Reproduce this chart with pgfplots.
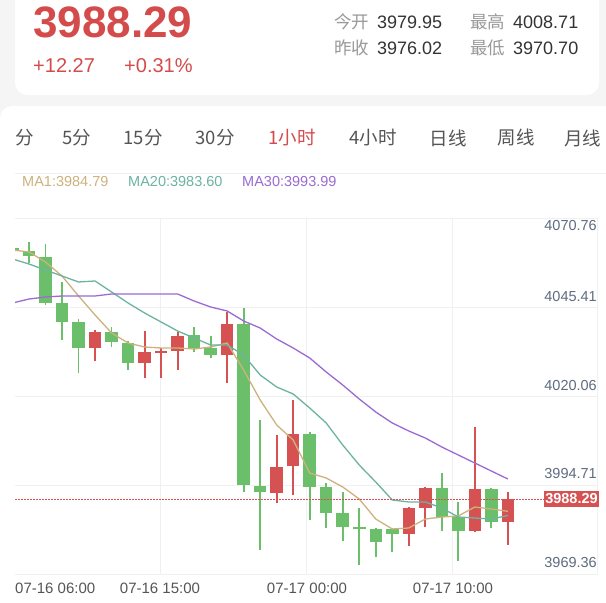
\documentclass[border=0pt]{standalone}
\usepackage{pgfplots}
\usepackage{pgfplotstable}
\pgfplotsset{compat=1.18}
\usepackage{fontspec}
\setmainfont{Liberation Sans}
\newfontfamily\cjk{Noto Sans CJK SC}
\newcommand\fs[1]{\fontsize{#1bp}{#1bp}\selectfont}
\definecolor{hred}{HTML}{D44B4B}
\definecolor{cred}{HTML}{D65252}
\definecolor{cgreen}{HTML}{6BBF6B}
\definecolor{maone}{HTML}{CDB27E}
\definecolor{matwenty}{HTML}{6DB3A2}
\definecolor{mathirty}{HTML}{9B6BD1}
\definecolor{gridc}{HTML}{F0F0F0}
\definecolor{ylab}{HTML}{5F6C80}
\definecolor{bgc}{HTML}{F5F5F5}
\definecolor{tabc}{HTML}{555555}
\definecolor{lgray}{HTML}{999999}
\definecolor{dark}{HTML}{333333}

\pgfplotstableread{
i o h l c
5 4031.21 4036.42 4027.60 4035.77
8 4027.11 4036.14 4022.67 4030.24
9 4029.96 4031.21 4022.84 4030.44
10 4030.44 4035.94 4025.03 4034.80
13 4029.30 4041.64 4021.24 4038.05
16 3989.91 4006.52 3987.07 3997.49
17 3997.77 4016.49 3989.43 4006.72
24 3978.32 3986.10 3974.99 3985.64
25 3985.81 3991.79 3980.40 3991.51
28 3979.18 4008.71 3978.81 3991.14
30 3981.65 3990.20 3975.19 3988.29
}\redc

\pgfplotstableread{
i o h l c
0 4059.78 4060.06 4058.64 4058.93
1 4059.07 4061.49 4055.51 4057.50
2 4057.30 4060.83 4043.54 4044.20
3 4044.03 4050.01 4033.58 4038.79
4 4038.70 4039.56 4024.09 4031.21
6 4035.77 4037.36 4031.67 4033.01
7 4032.64 4033.29 4025.03 4027.11
11 4035.00 4037.19 4030.24 4031.38
12 4031.21 4034.72 4028.36 4029.30
14 4038.05 4042.78 3990.37 3992.28
15 3992.08 4010.79 3973.76 3990.20
18 4006.72 4007.29 3982.31 3991.79
19 3991.79 3992.76 3979.94 3984.39
20 3984.39 3990.20 3976.41 3980.23
21 3980.23 3985.81 3969.49 3979.75
22 3979.66 3979.94 3971.68 3975.96
23 3979.66 3979.94 3973.11 3978.32
26 3991.51 3995.78 3979.18 3983.08
27 3983.08 3987.35 3970.70 3979.26
29 3991.14 3991.34 3979.94 3981.82
}\greenc

\pgfplotstableread{
i ma1 ma20 ma30
0 4059.21 4056.65 4044.11
1 4058.64 4055.22 4045.25
2 4055.79 4053.51 4045.82
3 4051.80 4051.80 4046.11
4 4046.11 4050.10 4046.11
5 4040.70 4050.38 4046.11
6 4035.57 4047.25 4046.68
7 4032.72 4044.11 4046.68
8 4031.58 4041.27 4046.68
9 4031.30 4038.70 4046.68
10 4031.30 4036.14 4046.68
11 4031.01 4034.15 4044.68
12 4031.58 4032.15 4042.98
13 4032.72 4032.15 4041.84
14 4025.03 4029.30 4038.99
15 4016.49 4023.61 4036.99
16 4009.37 4020.19 4033.86
17 4005.09 4018.20 4031.30
18 3995.70 4014.21 4028.45
19 3994.27 4009.94 4024.46
20 3991.71 4003.67 4020.76
21 3988.29 3997.97 4016.77
22 3982.59 3993.13 4013.07
23 3979.75 3988.01 4009.94
24 3980.03 3987.44 4007.66
25 3982.59 3987.44 4005.66
26 3983.16 3985.73 4003.10
27 3983.45 3983.16 4000.82
28 3986.01 3982.88 3998.54
29 3985.44 3982.59 3996.26
30 3984.79 3983.60 3993.99
}\matab

\begin{document}
\begin{tikzpicture}
\path[use as bounding box] (0bp,0bp) rectangle (606bp,-603bp);
\fill[bgc] (0bp,0bp) rectangle (606bp,-603bp);
\fill[white, rounded corners=12bp] (15bp,20bp) rectangle (599bp,-95bp);
\fill[white, rounded corners=12bp] (0bp,-106bp) rectangle (630bp,-640bp);

% header
\node[anchor=west, inner sep=0pt, text=hred] at (33bp,-22bp) {\fs{44}\bfseries 3988.29};
\node[anchor=west, inner sep=0pt, text=hred] at (33bp,-66bp) {\fs{20}+12.27};
\node[anchor=west, inner sep=0pt, text=hred] at (124bp,-66bp) {\fs{20}+0.31\%};
\node[anchor=west, inner sep=0pt, text=lgray] at (334bp,-22bp) {\cjk\fs{17.5}今开};
\node[anchor=west, inner sep=0pt, text=dark] at (377bp,-22bp) {\fs{18}3979.95};
\node[anchor=west, inner sep=0pt, text=lgray] at (470bp,-22bp) {\cjk\fs{17.5}最高};
\node[anchor=west, inner sep=0pt, text=dark] at (513bp,-22bp) {\fs{18}4008.71};
\node[anchor=west, inner sep=0pt, text=lgray] at (334bp,-48bp) {\cjk\fs{17.5}昨收};
\node[anchor=west, inner sep=0pt, text=dark] at (377bp,-48bp) {\fs{18}3976.02};
\node[anchor=west, inner sep=0pt, text=lgray] at (470bp,-48bp) {\cjk\fs{17.5}最低};
\node[anchor=west, inner sep=0pt, text=dark] at (513bp,-48bp) {\fs{18}3970.70};

% tabs
\node[anchor=west, inner sep=0pt, text=tabc] at (15bp,-138bp) {\cjk\fs{18.5}分};
\node[inner sep=0pt, text=tabc] at (77bp,-138bp) {\cjk\fs{18.5}5分};
\node[inner sep=0pt, text=tabc] at (143bp,-138bp) {\cjk\fs{18.5}15分};
\node[inner sep=0pt, text=tabc] at (215bp,-138bp) {\cjk\fs{18.5}30分};
\node[inner sep=0pt, text=hred] at (292bp,-138bp) {\cjk\fs{18.5}1小时};
\node[inner sep=0pt, text=tabc] at (373bp,-138bp) {\cjk\fs{18.5}4小时};
\node[inner sep=0pt, text=tabc] at (448bp,-138bp) {\cjk\fs{18.5}日线};
\node[inner sep=0pt, text=tabc] at (516bp,-138bp) {\cjk\fs{18.5}周线};
\node[anchor=west, inner sep=0pt, text=tabc] at (564bp,-138bp) {\cjk\fs{18.5}月线};
\draw[gridc, line width=0.8bp] (15bp,-173bp) -- (606bp,-173bp);

% legend
\node[anchor=west, inner sep=0pt, text=maone] at (22bp,-182bp) {\fs{14.5}MA1:3984.79};
\node[anchor=west, inner sep=0pt, text=matwenty] at (128bp,-182bp) {\fs{14.5}MA20:3983.60};
\node[anchor=west, inner sep=0pt, text=mathirty] at (242bp,-182bp) {\fs{14.5}MA30:3993.99};

\begin{axis}[at={(15bp,-574bp)}, anchor=south west, scale only axis,
  width=583bp, height=356bp,
  xmin=0.151, xmax=35.46, ymin=3966.93, ymax=4068.32,
  axis line style={draw=none},
  xtick={8.978,17.81,26.64,35.44}, ytick={3966.95,3992.28,4017.63,4042.98,4068.30},
  xticklabels={}, yticklabels={}, major tick length=0pt,
  grid=major, grid style={line width=0.8bp, gridc},
  clip=true,
  candle/.style={only marks, mark=text, text mark={}, mark size=0pt, mark options={opacity=0}, forget plot,
    error bars/.cd, y dir=both, y explicit, error mark=none, error bar style={#1}, /pgfplots/.cd}]
% wicks
\addplot[candle={line width=1.8bp, cred}]
  table[x=i, y expr={(\thisrow{h}+\thisrow{l})/2}, y error expr={(\thisrow{h}-\thisrow{l})/2}] {\redc};
\addplot[candle={line width=1.8bp, cgreen}]
  table[x=i, y expr={(\thisrow{h}+\thisrow{l})/2}, y error expr={(\thisrow{h}-\thisrow{l})/2}] {\greenc};
% bodies
\addplot[candle={line width=12.5bp, cred}]
  table[x=i, y expr={(\thisrow{o}+\thisrow{c})/2}, y error expr={max(abs(\thisrow{o}-\thisrow{c})/2,0.3)}] {\redc};
\addplot[candle={line width=12.5bp, cgreen}]
  table[x=i, y expr={(\thisrow{o}+\thisrow{c})/2}, y error expr={max(abs(\thisrow{o}-\thisrow{c})/2,0.3)}] {\greenc};
% moving averages
\addplot[maone, line width=1.3bp, mark=none] table[x=i, y=ma1] {\matab};
\addplot[matwenty, line width=1.3bp, mark=none] table[x=i, y=ma20] {\matab};
\addplot[mathirty, line width=1.3bp, mark=none] table[x=i, y=ma30] {\matab};
% current price
\addplot[cred, line width=1bp, dash pattern=on 1.5bp off 1.5bp] coordinates {(0.151,3988.29) (32.2,3988.29)};
\end{axis}

% y labels
\node[anchor=east, inner sep=0pt, text=ylab] at (597bp,-226bp) {\fs{14.5}4070.76};
\node[anchor=east, inner sep=0pt, text=ylab] at (597bp,-297bp) {\fs{14.5}4045.41};
\node[anchor=east, inner sep=0pt, text=ylab] at (597bp,-386bp) {\fs{14.5}4020.06};
\node[anchor=east, inner sep=0pt, text=ylab] at (597bp,-474bp) {\fs{14.5}3994.71};
\node[anchor=east, inner sep=0pt, text=ylab] at (597bp,-563bp) {\fs{14.5}3969.36};
\fill[cred] (544bp,-491bp) rectangle (599bp,-507bp);
\node[inner sep=0pt, text=white] at (571.5bp,-499bp) {\fs{14.5}\bfseries 3988.29};

% time labels
\node[anchor=west, inner sep=0pt, text=tabc] at (15bp,-588bp) {\fs{15}07-16 06:00};
\node[inner sep=0pt, text=tabc] at (160bp,-588bp) {\fs{15}07-16 15:00};
\node[inner sep=0pt, text=tabc] at (307bp,-588bp) {\fs{15}07-17 00:00};
\node[inner sep=0pt, text=tabc] at (453bp,-588bp) {\fs{15}07-17 10:00};
\end{tikzpicture}
\end{document}
